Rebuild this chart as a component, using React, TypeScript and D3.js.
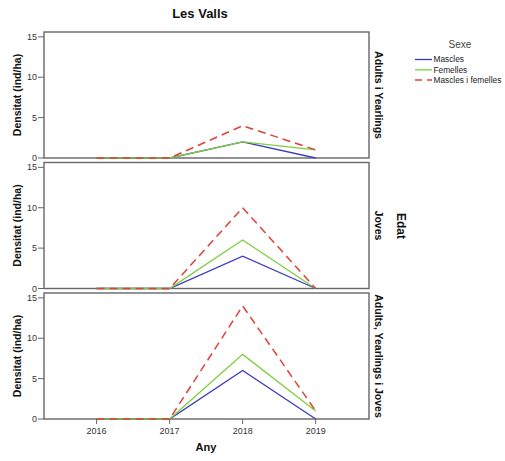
import React from "react";
import * as d3 from "d3";

const years = [2016, 2017, 2018, 2019];
const panels = ["Adults i Yearlings", "Joves", "Adults, Yearlings i Joves"];
const seriesNames = ["Mascles", "Femelles", "Mascles i femelles"];
const mascles = [
  [0, 0, 2, 0],
  [0, 0, 4, 0],
  [0, 0, 6, 0],
];
const femelles = [
  [0, 0, 2, 1],
  [0, 0, 6, 0],
  [0, 0, 8, 1],
];
const total = [
  [0, 0, 4, 1],
  [0, 0, 10, 0],
  [0, 0, 14, 1],
];
const yTicks = [0, 5, 10, 15];

const colors = ["#3a3ac4", "#7ccf3e", "#e0403a"];
const dashes = [null, null, "8,5"];
const widths = [1.3, 1.3, 1.5];
const FONT = "'Liberation Sans', Arial, sans-serif";

export default function App() {
  const W = 505;
  const H = 461;
  const left = 44;
  const right = 369;
  const tops = [32, 162.5, 293];
  const ph = 126;
  const x = d3.scaleLinear().domain([2015.28, 2019.73]).range([left, right]);
  const allSeries = [mascles, femelles, total];
  const line = d3
    .line<number>()
    .x((_, i) => x(years[i]));

  return (
    <svg width={W} height={H} style={{ position: "absolute", left: 0, top: 0 }} fontFamily={FONT}>
      <rect width={W} height={H} fill="#fff" />
      <text x={200} y={18} textAnchor="middle" fontSize={13} fontWeight="bold" fill="#111">
        Les Valls
      </text>
      {panels.map((p, pi) => {
        const top = tops[pi];
        const y = d3.scaleLinear().domain([0, 15.6]).range([top + ph, top]);
        const l = line.y((d) => y(d));
        return (
          <g key={p}>
            <rect x={left} y={top} width={right - left} height={ph} fill="none" stroke="#666" strokeWidth={1.4} />
            {yTicks.map((t) => (
              <g key={t}>
                <line x1={left - 6} x2={left} y1={y(t)} y2={y(t)} stroke="#666" strokeWidth={1} />
                <text x={left - 7} y={y(t)} dy="0.35em" textAnchor="end" fontSize={9} fill="#333">
                  {t}
                </text>
              </g>
            ))}
            <text
              transform={`translate(${17},${top + ph / 2}) rotate(-90)`}
              textAnchor="middle"
              dy="0.35em"
              fontSize={10.5}
              fontWeight="bold"
              fill="#111"
            >
              Densitat (ind/ha)
            </text>
            <text
              transform={`translate(${375},${top + ph / 2}) rotate(90)`}
              textAnchor="middle"
              fontSize={10.5}
              fontWeight="bold"
              fill="#111"
            >
              {p}
            </text>
            {allSeries.map((s, si) => (
              <path
                key={si}
                d={l(s[pi]) || ""}
                fill="none"
                stroke={colors[si]}
                strokeWidth={widths[si]}
                strokeDasharray={dashes[si] || undefined}
              />
            ))}
          </g>
        );
      })}
      {years.map((yv) => (
        <g key={yv}>
          <line x1={x(yv)} x2={x(yv)} y1={tops[2] + ph} y2={tops[2] + ph + 5} stroke="#666" strokeWidth={1} />
          <text x={x(yv)} y={tops[2] + ph + 15} textAnchor="middle" fontSize={9} fill="#333">
            {yv}
          </text>
        </g>
      ))}
      <text x={206} y={451} textAnchor="middle" fontSize={11} fontWeight="bold" fill="#111">
        Any
      </text>
      <text
        transform={`translate(${397},${226}) rotate(90)`}
        textAnchor="middle"
        fontSize={12}
        fontWeight="bold"
        fill="#111"
      >
        Edat
      </text>
      <text x={460} y={48} textAnchor="middle" fontSize={10} fill="#444">
        Sexe
      </text>
      {seriesNames.map((n, i) => {
        const ly = 59.5 + i * 10.3;
        return (
          <g key={n}>
            <line
              x1={415}
              x2={432}
              y1={ly}
              y2={ly}
              stroke={colors[i]}
              strokeWidth={widths[i]}
              strokeDasharray={i === 2 ? "7,5" : undefined}
            />
            <text x={433.5} y={ly} dy="0.35em" fontSize={8.3} fill="#222">
              {n}
            </text>
          </g>
        );
      })}
    </svg>
  );
}
